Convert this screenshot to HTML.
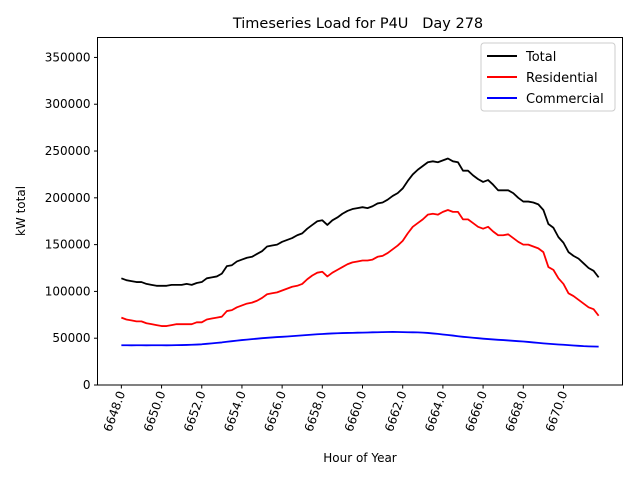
<!DOCTYPE html>
<html><head><meta charset="utf-8"><style>
body{margin:0;background:#fff;font-family:"Liberation Sans","DejaVu Sans",sans-serif}
svg text{font-family:"DejaVu Sans","Liberation Sans",sans-serif}
</style></head><body>
<svg id="chart" width="640" height="480" xmlns="http://www.w3.org/2000/svg">
<rect width="640" height="480" fill="#fff"/>
<text x="358" y="28" font-size="14.5" text-anchor="middle" style="white-space:pre" xml:space="preserve">Timeseries Load for P4U   Day 278</text>
<g id="plot"></g>
<rect x="97.5" y="37.5" width="525" height="347.5" fill="none" stroke="#000" stroke-width="1"/>
<text x="360" y="462" font-size="12" text-anchor="middle">Hour of Year</text>
<text transform="translate(25,211) rotate(-90)" font-size="12" text-anchor="middle">kW total</text>
<g>
<rect x="481" y="43" width="134" height="68" rx="3" fill="#fff" fill-opacity="0.8" stroke="#ccc"/>
<line x1="487" y1="56" x2="517" y2="56" stroke="#000" stroke-width="2"/>
<text x="526" y="61" font-size="13">Total</text>
<line x1="487" y1="77" x2="517" y2="77" stroke="red" stroke-width="2"/>
<text x="526" y="82" font-size="13">Residential</text>
<line x1="487" y1="98" x2="517" y2="98" stroke="blue" stroke-width="2"/>
<text x="526" y="103" font-size="13">Commercial</text>
</g>
</svg>
<script>
const startHour = 6648;
const stepHours = 0.25;
const totalK = [114,112,111,110,110,108,107,106,106,106,107,107,107,108,107,109,110,114,115,116,119,127,128,132,134,136,137,140,143,148,149,150,153,155,157,160,162,167,171,175,176,171,176,179,183,186,188,189,190,189,191,194,195,198,202,205,210,218,225,230,234,238,239,238,240,242,239,238,229,229,224,220,217,219,214,208,208,208,205,200,196,196,195,193,187,172,168,158,152,142,138,135,130,125,122,115];
const residentialK = [72,70,69,68,68,66,65,64,63,63,64,65,65,65,65,67,67,70,71,72,73,79,80,83,85,87,88,90,93,97,98,99,101,103,105,106,108,113,117,120,121,116,120,123,126,129,131,132,133,133,134,137,138,141,145,149,154,162,169,173,177,182,183,182,185,187,185,185,177,177,173,169,167,169,164,160,160,161,157,153,150,150,148,146,142,126,123,114,108,98,95,91,87,83,81,74];
const commercialK = [42.5,42.5,42.4,42.5,42.5,42.4,42.5,42.5,42.5,42.4,42.5,42.6,42.7,42.8,43,43.2,43.5,44,44.5,45,45.5,46.2,46.8,47.4,48,48.5,49,49.5,50,50.4,50.8,51.2,51.5,51.8,52.2,52.6,53,53.4,53.8,54.2,54.5,54.8,55.1,55.3,55.5,55.6,55.7,55.9,56,56.1,56.3,56.4,56.5,56.6,56.7,56.6,56.5,56.4,56.3,56.2,56,55.6,55.1,54.6,54,53.4,52.8,52.1,51.5,51,50.5,50,49.5,49.1,48.7,48.3,48,47.6,47.2,46.8,46.5,46,45.5,45,44.5,44.1,43.7,43.3,43,42.6,42.2,41.9,41.5,41.3,41.1,41];
const yTicks = [0,50000,100000,150000,200000,250000,300000,350000];
const xTicks = [6648,6650,6652,6654,6656,6658,6660,6662,6664,6666,6668,6670];

const X0=97.5,X1=622.5,Y0=385,Y1=37.5;
const xMin=6646.8125,xMax=6672.9375,yMin=0,yMax=371300;
const xs=v=>X0+(v-xMin)/(xMax-xMin)*(X1-X0);
const ys=v=>Y0-(v-yMin)/(yMax-yMin)*(Y0-Y1);
const NS="http://www.w3.org/2000/svg";
const plot=document.getElementById('plot');
function mk(tag,attrs){const e=document.createElementNS(NS,tag);for(const k in attrs)e.setAttribute(k,attrs[k]);return e;}

yTicks.forEach(t=>{
  const y=ys(t);
  const l=mk('line',{x1:X0-3.5,x2:X0,y1:y,y2:y,stroke:'#000'});
  
  
  plot.appendChild(l);
  const tx=mk('text',{x:X0-7,y:y+4,'font-size':'12','text-anchor':'end'});
  
  
  tx.textContent=String(t);
  plot.appendChild(tx);
});
xTicks.forEach(t=>{
  const x=xs(t);
  const l=mk('line',{x1:x,x2:x,y1:Y0,y2:Y0+3.5,stroke:'#000'});
  
  
  plot.appendChild(l);
  const tx=mk('text',{transform:`translate(${x+4},${Y0+8}) rotate(-70)`,'font-size':'12','text-anchor':'end'});
  
  
  tx.textContent=t.toFixed(1);
  plot.appendChild(tx);
});
function series(arr,color,name){
  const pts=arr.map((v,i)=>xs(startHour+i*stepHours).toFixed(2)+','+ys(v*1000).toFixed(2)).join(' ');
  const p=mk('polyline',{points:pts,fill:'none',stroke:color,'stroke-width':'1.8','stroke-linejoin':'round'});
  
  
  plot.appendChild(p);
}
series(totalK,'#000','total-line');
series(residentialK,'red','residential-line');
series(commercialK,'blue','commercial-line');
</script>
</body></html>
